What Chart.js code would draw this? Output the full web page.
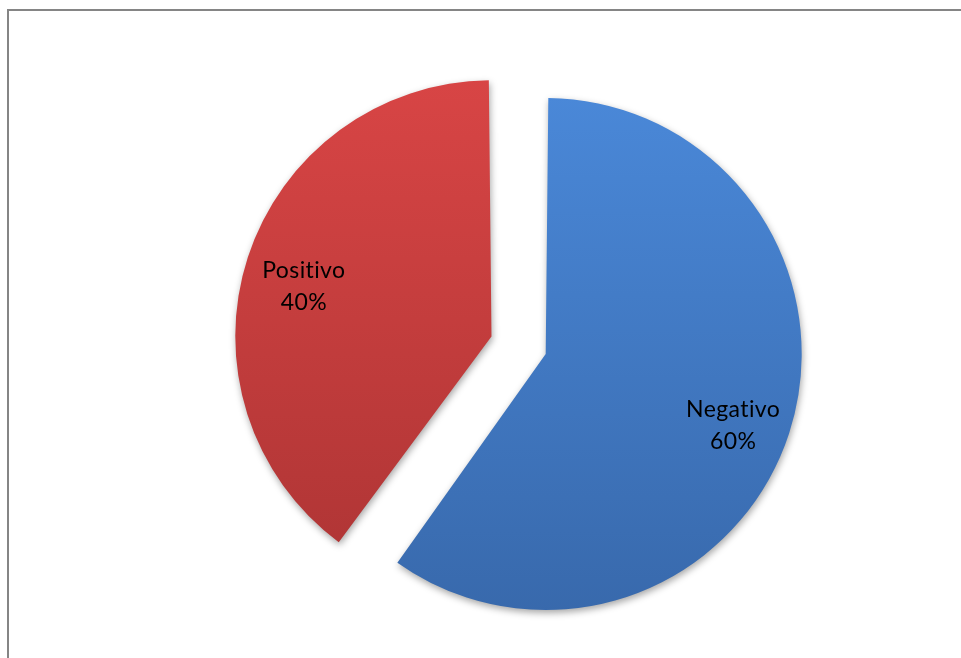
<!DOCTYPE html>
<html>
<head>
<meta charset="utf-8">
<script src="https://cdn.jsdelivr.net/npm/chart.js@4/dist/chart.umd.min.js"></script>
<style>
  html, body { margin: 0; padding: 0; background: #fff; overflow: hidden; }
  .wrap { position: relative; width: 961px; height: 658px; }
  .frame { position: absolute; left: 7px; top: 9px; width: 1000px; height: 700px; border: 2px solid #858585; }
  canvas { position: absolute; left: 0; top: 0; }
</style>
</head>
<body>
<div class="wrap">
  <div class="frame"></div>
  <canvas id="chart" width="961" height="658"></canvas>
</div>
<script>
// data
const categories = ['Negativo', 'Positivo'];
const values = [60, 40];

const topColors = ['#4a88d8', '#d84545'];
const bottomColors = ['#3869ac', '#ad3434'];

const total = values.reduce((a, b) => a + b, 0);

function sliceFill(ctx) {
   const chart = ctx.chart;
   const area = chart.chartArea;
   if (!area) return topColors[ctx.dataIndex];
   const cy = (area.top + area.bottom) / 2;
   const g = chart.ctx.createLinearGradient(0, cy - 260, 0, cy + 260);
   g.addColorStop(0, topColors[ctx.dataIndex]);
   g.addColorStop(1, bottomColors[ctx.dataIndex]);
   return g;
}

// soft shadow under the slices
const shadowPlugin = {
   id: 'shadow',
   beforeDatasetsDraw(chart) {
      const c = chart.ctx;
      c.save();
      c.shadowColor = 'rgba(0,0,0,0.35)';
      c.shadowBlur = 7;
      c.shadowOffsetX = 1;
      c.shadowOffsetY = 3;
   },
   afterDatasetsDraw(chart) {
      chart.ctx.restore();
   }
};

// name + percent inside each slice
const labelPlugin = {
   id: 'sliceLabels',
   afterDatasetsDraw(chart) {
      const c = chart.ctx;
      const meta = chart.getDatasetMeta(0);
      c.save();
      c.font = '23px Lato';
      c.letterSpacing = '0.4px';
      c.fillStyle = '#000';
      c.textAlign = 'center';
      c.textBaseline = 'middle';
      meta.data.forEach((arc, i) => {
         const p = arc.getProps(['x', 'y', 'startAngle', 'endAngle', 'outerRadius']);
         const mid = (p.startAngle + p.endAngle) / 2;
         const off = arc.options.offset / 4;
         const fix = 1 - Math.sin(Math.min(Math.PI, p.endAngle - p.startAngle));
         const cx = p.x + Math.cos(mid) * off;
         const cy = p.y + Math.sin(mid) * off;
         const r = (p.outerRadius + off * fix) * 0.77;
         const x = cx + Math.cos(mid) * r;
         const y = cy + Math.sin(mid) * r + 11;
         const pct = Math.round(values[i] / total * 100) + '%';
         c.fillText(categories[i], x, y - 16);
         c.fillText(pct, x, y + 16);
      });
      c.restore();
   }
};

new Chart(document.getElementById('chart'), {
   type: 'pie',
   data: {
      labels: categories,
      datasets: [{
         data: values,
         backgroundColor: sliceFill,
         borderWidth: 0,
         offset: [66, 162]
      }]
   },
   options: {
      responsive: false,
      animation: false,
      radius: 239.5,
      layout: { padding: { left: 99, right: 0, top: 40, bottom: 0 } },
      plugins: {
         legend: { display: false },
         tooltip: { enabled: false }
      }
   },
   plugins: [shadowPlugin, labelPlugin]
});
</script>
</body>
</html>
